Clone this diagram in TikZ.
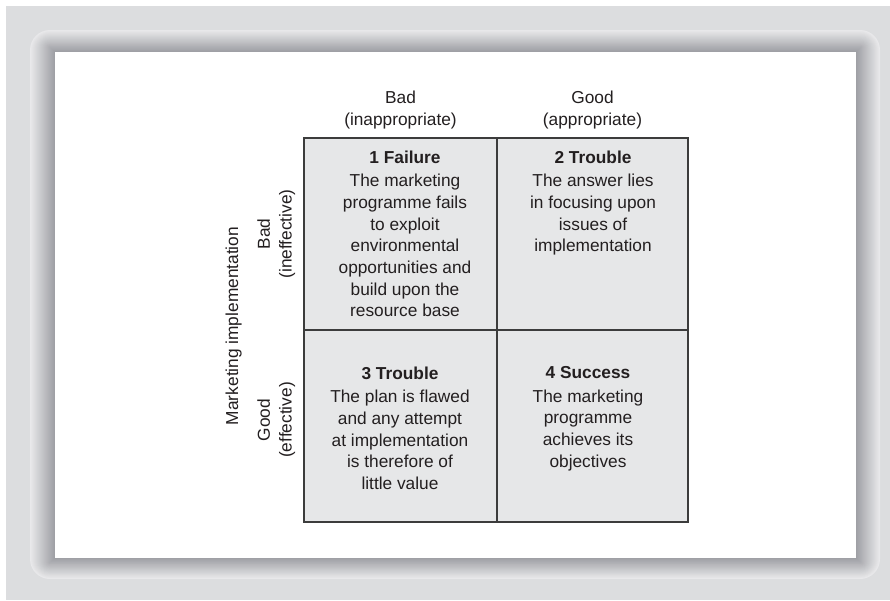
\documentclass[tikz,border=0pt]{standalone}
\usepackage{fontspec}
\setmainfont{Liberation Sans}
\definecolor{bg}{HTML}{DCDDDF}
\definecolor{panA}{HTML}{E9E9EB}
\definecolor{panB}{HTML}{9C9DA2}
\definecolor{cellfill}{HTML}{E6E7E8}
\definecolor{gridline}{HTML}{3C3C3C}
\definecolor{ink}{HTML}{231F20}
\tikzset{
  lbl/.style={font=\fontsize{17.3}{21.7}\selectfont, text=ink, align=center, inner sep=0pt, outer sep=0pt},
  cell/.style={draw=gridline, fill=cellfill, line width=1.6pt, minimum height=192pt, inner sep=0pt, outer sep=0pt},
}
\begin{document}
\begin{tikzpicture}[x=1pt,y=-1pt]
\useasboundingbox (0,0) rectangle (890,600);
\fill[bg] (6,6) rectangle (890,600);
\foreach \i in {0,...,24}{
  \pgfmathsetmacro\p{\i*4}
  \pgfmathsetmacro\r{max(20*(1-\i/20),0.01)}
  \fill[panB!\p!panA, rounded corners=\r pt] ({30+\i},{30+\i*22/25}) rectangle ({880-\i*24/25},{579-\i*21/25});
}
\fill[white] (55,52) rectangle (856,558);

% cells
\node[cell, minimum width=193pt] (c1) at (400.5,234) {};
\node[cell, minimum width=191pt] (c2) at (592.5,234) {};
\node[cell, minimum width=193pt] (c3) at (400.5,426) {};
\node[cell, minimum width=191pt] (c4) at (592.5,426) {};

% column headers
\node[lbl, anchor=north] (h1) at (400.5,91.4) {Bad\\(inappropriate)};
\node[lbl, anchor=north] (h2) at (592.5,91.4) {Good\\(appropriate)};

% row headers
\node[lbl, rotate=90, anchor=north] (r1) at (257.4,234) {Bad\\(ineffective)};
\node[lbl, rotate=90, anchor=north] (r2) at (257.4,420) {Good\\(effective)};
\node[lbl, rotate=90, anchor=base] (ax) at (238,326) {Marketing implementation};

% cell texts
\node[lbl, anchor=north] (t1) at (405,150.7) {\textbf{1 Failure}\\[1.7pt]The marketing\\programme fails\\to exploit\\environmental\\opportunities and\\build upon the\\resource base};
\node[lbl, anchor=north] (t2) at (593,150.7) {\textbf{2 Trouble}\\[1.7pt]The answer lies\\in focusing upon\\issues of\\implementation};
\node[lbl, anchor=north] (t3) at (400,366.7) {\textbf{3 Trouble}\\[1.7pt]The plan is flawed\\and any attempt\\at implementation\\is therefore of\\little value};
\node[lbl, anchor=north] (t4) at (588,366.7) {\textbf{4 Success}\\[1.7pt]The marketing\\programme\\achieves its\\objectives};
\end{tikzpicture}
\end{document}
